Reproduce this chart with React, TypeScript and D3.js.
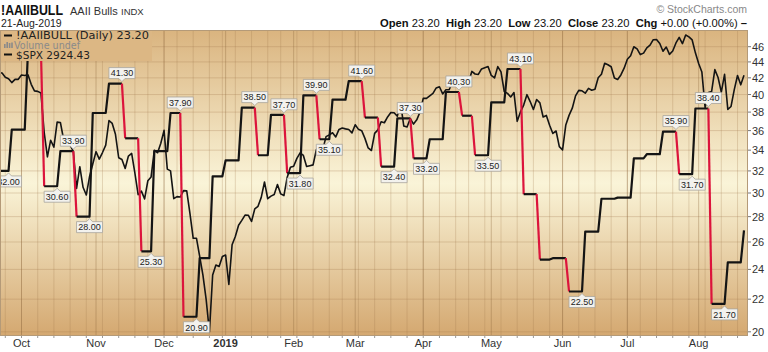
import React from "react";
import * as d3 from "d3";

// ---- data ----
const holidays = [
  "2018-11-22", "2018-12-05", "2018-12-25", "2019-01-01", "2019-01-21",
  "2019-02-18", "2019-04-19", "2019-05-27", "2019-07-04",
];

// S&P 500 daily closes, 19-Sep-2018 .. 21-Aug-2019 (trading days)
const spxSep18 = [2907.95, 2930.75, 2929.67, 2919.37, 2915.56, 2905.97, 2914.0, 2913.98];
const spxOct18 = [2924.59, 2923.43, 2925.51, 2901.61, 2885.57, 2884.43, 2880.34, 2785.68, 2728.37, 2767.13, 2750.79, 2809.92, 2809.21, 2768.78, 2767.78, 2755.88, 2740.69, 2656.1, 2705.57, 2658.69, 2641.25, 2682.63, 2711.74];
const spxNov18 = [2740.37, 2723.06, 2738.31, 2755.45, 2813.89, 2806.83, 2781.01, 2726.22, 2722.18, 2701.58, 2730.2, 2736.27, 2690.73, 2641.89, 2649.93, 2632.56, 2673.45, 2682.17, 2743.79, 2737.8, 2760.17];
const spxDec18 = [2790.37, 2700.06, 2695.95, 2633.08, 2637.72, 2636.78, 2651.07, 2650.54, 2599.95, 2545.94, 2546.16, 2506.96, 2467.42, 2416.62, 2351.1, 2467.7, 2488.83, 2485.74, 2506.85];
const spxJan19 = [2510.03, 2447.89, 2531.94, 2549.69, 2574.41, 2584.96, 2596.64, 2596.26, 2582.61, 2610.3, 2616.1, 2635.96, 2670.71, 2632.9, 2638.7, 2642.33, 2664.76, 2643.85, 2640.0, 2681.05, 2704.1];
const spxFeb19 = [2706.53, 2724.87, 2737.7, 2731.61, 2706.05, 2707.88, 2709.8, 2744.73, 2753.03, 2745.73, 2775.6, 2779.76, 2784.7, 2774.88, 2792.67, 2796.11, 2793.9, 2792.38, 2784.49];
const spxMar19 = [2803.69, 2792.81, 2789.65, 2771.45, 2748.93, 2743.07, 2783.3, 2791.52, 2810.92, 2808.48, 2822.48, 2832.94, 2832.57, 2824.23, 2854.88, 2800.71, 2798.36, 2818.46, 2805.37, 2815.44, 2834.4];
const spxApr19 = [2867.19, 2867.24, 2873.4, 2879.39, 2892.74, 2895.77, 2878.2, 2888.21, 2888.32, 2907.41, 2905.58, 2907.06, 2900.45, 2905.03, 2907.97, 2933.68, 2927.25, 2926.17, 2939.88, 2943.03, 2945.83];
const spxMay19 = [2923.73, 2917.52, 2945.64, 2932.47, 2884.05, 2879.42, 2870.72, 2881.4, 2811.87, 2834.41, 2850.96, 2876.32, 2859.53, 2840.23, 2864.36, 2856.27, 2822.24, 2826.06, 2802.39, 2783.02, 2788.86, 2752.06];
const spxJun19 = [2744.45, 2803.27, 2826.15, 2843.49, 2873.34, 2886.73, 2885.72, 2879.84, 2891.64, 2886.98, 2889.67, 2917.75, 2926.46, 2954.18, 2950.46, 2945.35, 2917.38, 2913.78, 2924.92, 2941.76];
const spxJul19 = [2964.33, 2973.01, 2995.82, 2990.41, 2975.95, 2979.63, 2993.07, 2999.91, 3013.77, 3014.3, 3004.04, 2984.42, 2995.11, 2976.61, 2985.03, 3005.47, 3019.56, 3003.67, 3025.86, 3020.97, 3013.18, 2980.38];
const spxAug19 = [2953.56, 2932.05, 2844.74, 2881.77, 2883.98, 2938.09, 2918.65, 2882.7, 2926.32, 2840.6, 2847.6, 2888.68, 2923.65, 2900.51, 2924.43];

// AAII bullish % (weekly, survey week ending Wednesday)
const aaiiWeeks = [
  "2018-09-19", "2018-09-26", "2018-10-03", "2018-10-10", "2018-10-17", "2018-10-24", "2018-10-31",
  "2018-11-07", "2018-11-14", "2018-11-21", "2018-11-28", "2018-12-05", "2018-12-12", "2018-12-19",
  "2018-12-26", "2019-01-02", "2019-01-09", "2019-01-16", "2019-01-23", "2019-01-30", "2019-02-06",
  "2019-02-13", "2019-02-20", "2019-02-27", "2019-03-06", "2019-03-13", "2019-03-20", "2019-03-27",
  "2019-04-03", "2019-04-10", "2019-04-17", "2019-04-24", "2019-05-01", "2019-05-08", "2019-05-15",
  "2019-05-22", "2019-05-29", "2019-06-05", "2019-06-12", "2019-06-19", "2019-06-26", "2019-07-03",
  "2019-07-10", "2019-07-17", "2019-07-24", "2019-07-31", "2019-08-07", "2019-08-14", "2019-08-21",
];
const aaiiBull = [
  32.0, 36.1, 45.5, 30.6, 33.9, 28.0, 37.9,
  41.3, 35.2, 25.3, 33.9, 37.9, 20.9, 24.8,
  31.5, 33.0, 38.5, 33.5, 37.7, 31.8, 39.9,
  35.1, 39.4, 41.6, 37.4, 32.4, 37.3, 33.2,
  35.1, 40.3, 37.6, 33.5, 39.1, 43.1, 29.9,
  24.7, 24.8, 22.5, 26.8, 29.5, 29.6, 33.2,
  33.6, 35.9, 31.7, 38.4, 21.7, 24.5, 26.9,
];
const labeledWeeks = [
  "2018-09-19", "2018-10-10", "2018-10-17", "2018-10-24", "2018-11-07", "2018-11-21", "2018-12-05",
  "2018-12-12", "2019-01-09", "2019-01-23", "2019-01-30", "2019-02-06", "2019-02-13", "2019-02-27",
  "2019-03-13", "2019-03-20", "2019-03-27", "2019-04-10", "2019-04-24", "2019-05-08", "2019-06-05",
  "2019-07-17", "2019-07-24", "2019-07-31", "2019-08-07",
];
const yTicks = [20, 22, 24, 26, 28, 30, 32, 34, 36, 38, 40, 42, 44, 46];
const monthNames = ["Jan", "Feb", "Mar", "Apr", "May", "Jun", "Jul", "Aug", "Sep", "Oct", "Nov", "Dec"];

// ---- layout ----
const W = 768;
const H = 352;
const plot = { left: 0, right: 748, top: 30, bottom: 336 };
const RED = "#dc143c";
const FONT = "'Liberation Sans', Arial, sans-serif";
const LEGEND_FONT = "'DejaVu Sans', Verdana, sans-serif";

const fmt = d3.timeFormat("%Y-%m-%d");
const parse = d3.timeParse("%Y-%m-%d");

const days = d3
  .timeDay.range(new Date(2018, 8, 19), new Date(2019, 7, 22))
  .filter((d) => d.getDay() % 6 !== 0 && !holidays.includes(fmt(d)));
const spx = [
  ...spxSep18, ...spxOct18, ...spxNov18, ...spxDec18, ...spxJan19, ...spxFeb19,
  ...spxMar19, ...spxApr19, ...spxMay19, ...spxJun19, ...spxJul19, ...spxAug19,
];
const weekDates = aaiiWeeks.map((s) => parse(s) as Date);
const weekOf = days.map((d) => {
  let k = 0;
  weekDates.forEach((w, i) => {
    if (w <= d) k = i;
  });
  return k;
});
const aaiiDaily = weekOf.map((k) => aaiiBull[k]);

const iOct1 = days.findIndex((d) => d.getMonth() === 9);
const x = d3.scaleLinear().domain([iOct1, days.length - 1]).range([21.5, 744]);
const yA = d3.scaleLog().domain([20, 46]).range([331.8, 46.7]);
const yS = d3.scaleLog().domain([2351.1, 3025.86]).range([332, 35]);

function Label({ cx, cy, text, peak }: { cx: number; cy: number; text: string; peak: boolean }) {
  const w = 26;
  const h = 11;
  const x0 = cx - w / 2;
  const x1 = cx + w / 2;
  let d: string;
  let ty: number;
  if (peak) {
    const b = cy - 5;
    const t = b - h;
    d = `M${x0},${t}H${x1}V${b}H${cx + 3}L${cx},${b + 3}L${cx - 3},${b}H${x0}Z`;
    ty = t + 8.8;
  } else {
    const t = cy + 5;
    const b = t + h;
    d = `M${x0},${t}H${cx - 3}L${cx},${t - 3}L${cx + 3},${t}H${x1}V${b}H${x0}Z`;
    ty = t + 8.8;
  }
  return (
    <g>
      <path d={d} fill="#f3f2ee" stroke="#a8a49c" strokeWidth={0.8} />
      <text x={cx} y={ty} textAnchor="middle" fontSize={9} fontFamily={FONT} fill="#222">
        {text}
      </text>
    </g>
  );
}

export default function App() {
  const line = d3
    .line<number>()
    .x((i) => x(i))
    .y((i) => yA(aaiiDaily[i]));

  // split the AAII line into runs of down (red) / other (black) segments
  const runs: { red: boolean; idx: number[] }[] = [];
  for (let i = 1; i < days.length; i++) {
    const red = aaiiDaily[i] < aaiiDaily[i - 1];
    const last = runs[runs.length - 1];
    if (last && last.red === red) last.idx.push(i);
    else runs.push({ red, idx: [i - 1, i] });
  }

  const spxLine = d3
    .line<number>()
    .x((_, i) => x(i))
    .y((v) => yS(v));

  const weekStarts = days
    .map((d, i) => ({ d, i }))
    .filter(({ d, i }) => i > 0 && d3.timeWeek.floor(d).getTime() !== d3.timeWeek.floor(days[i - 1]).getTime());
  const monthStarts = days
    .map((d, i) => ({ d, i }))
    .filter(({ d, i }) => i > 0 && d.getMonth() !== days[i - 1].getMonth());

  const labels = labeledWeeks.map((s) => {
    const k = aaiiWeeks.indexOf(s);
    const v = aaiiBull[k];
    const lastIdx = weekOf.lastIndexOf(k);
    const peak = k > 0 ? v > aaiiBull[k - 1] : v > aaiiBull[k + 1];
    return { cx: x(lastIdx), cy: yA(v), text: v.toFixed(2), peak };
  });

  return (
    <svg width={W} height={H} style={{ position: "absolute", left: 0, top: 0, background: "#fff" }}>
      <defs>
        <linearGradient id="bg" x1="0" y1="0" x2="0" y2="1">
          <stop offset="0" stopColor="#dab47f" />
          <stop offset="0.5" stopColor="#faf4d8" />
          <stop offset="1" stopColor="#d4a870" />
        </linearGradient>
        <clipPath id="clip">
          <rect x={plot.left} y={plot.top} width={plot.right - plot.left} height={plot.bottom - plot.top} />
        </clipPath>
      </defs>

      <rect x={plot.left} y={plot.top} width={plot.right - plot.left} height={plot.bottom - plot.top} fill="url(#bg)" />

      {/* grid */}
      <g clipPath="url(#clip)">
        {yTicks.map((t) => (
          <line key={t} x1={plot.left} x2={plot.right} y1={yA(t)} y2={yA(t)} stroke="#a0784a" strokeOpacity={0.28} />
        ))}
        {weekStarts.map(({ i }) => (
          <line key={"w" + i} x1={x(i)} x2={x(i)} y1={plot.top} y2={plot.bottom} stroke="#a0784a" strokeOpacity={0.25} />
        ))}
        {monthStarts.map(({ i }) => (
          <line key={"m" + i} x1={x(i)} x2={x(i)} y1={plot.top} y2={plot.bottom} stroke="#8a6438" strokeOpacity={0.35} />
        ))}
      </g>

      <g clipPath="url(#clip)">
        <path d={spxLine(spx) || ""} fill="none" stroke="#141414" strokeWidth={1.6} strokeLinejoin="round" />
        {runs.map((r, j) => (
          <path
            key={j}
            d={line(r.idx) || ""}
            fill="none"
            stroke={r.red ? RED : "#141414"}
            strokeWidth={2.2}
            strokeLinejoin="round"
          />
        ))}
        {labels.map((l, j) => (
          <Label key={j} {...l} />
        ))}
      </g>

      {/* legend */}
      <rect x={0} y={plot.top} width={152} height={31} fill="#dcb784" />
      <g fontFamily={LEGEND_FONT} fontSize={9.8}>
        <line x1={4} x2={12} y1={35.5} y2={35.5} stroke="#111" strokeWidth={2} />
        <text x={16} y={39} fill="#222" textLength={133} lengthAdjust="spacingAndGlyphs">
          !AAIIBULL (Daily) 23.20
        </text>
        <g fill="#8a8a8a">
          <rect x={4} y={44} width={1.6} height={4} />
          <rect x={6.4} y={42} width={1.6} height={6} />
          <rect x={8.8} y={43} width={1.6} height={5} />
          <rect x={11.2} y={42.5} width={1.6} height={5.5} />
        </g>
        <text x={14} y={49} fill="#8a8a8a" textLength={66} lengthAdjust="spacingAndGlyphs">
          Volume undef
        </text>
        <line x1={4} x2={12} y1={54.5} y2={54.5} stroke="#111" strokeWidth={2} />
        <text x={16} y={59} fill="#222" textLength={74} lengthAdjust="spacingAndGlyphs">
          $SPX 2924.43
        </text>
      </g>

      <rect
        x={plot.left + 0.5}
        y={plot.top + 0.5}
        width={plot.right - plot.left - 1}
        height={plot.bottom - plot.top - 1}
        fill="none"
        stroke="#b49a78"
        strokeWidth={1}
      />

      {/* right axis */}
      <g fontFamily={FONT} fontSize={11} fill="#333">
        {yTicks.map((t) => (
          <g key={t}>
            <line x1={plot.right} x2={plot.right + 3} y1={yA(t)} y2={yA(t)} stroke="#777" />
            <text x={752} y={yA(t)} dominantBaseline="central">
              {t}
            </text>
          </g>
        ))}
      </g>

      {/* bottom axis */}
      <g fontFamily={FONT} fontSize={11} fill="#333">
        {weekStarts.map(({ i }) => (
          <line key={"t" + i} x1={x(i)} x2={x(i)} y1={plot.bottom} y2={plot.bottom + 2} stroke="#999" />
        ))}
        {[{ d: days[iOct1], i: iOct1 }, ...monthStarts.filter(({ i }) => i > iOct1)].map(({ d, i }) => {
          const jan = d.getMonth() === 0;
          return (
            <text key={"ml" + i} x={x(i)} y={347} textAnchor="middle" fontWeight={jan ? "bold" : "normal"}>
              {jan ? String(d.getFullYear()) : monthNames[d.getMonth()]}
            </text>
          );
        })}
      </g>

      {/* header */}
      <g fontFamily={FONT} fill="#111">
        <text x={1} y={15} fontSize={14} fontWeight="bold" textLength={62} lengthAdjust="spacingAndGlyphs">
          !AAIIBULL
        </text>
        <text x={70} y={15} fontSize={11} fill="#333">AAII Bulls</text>
        <text x={121} y={15} fontSize={9.5} fill="#333">INDX</text>
        <text x={1} y={27} fontSize={10.5} fill="#222">21-Aug-2019</text>
        <text x={747} y={13} fontSize={10.5} fill="#888" textAnchor="end">© StockCharts.com</text>
        <text x={747} y={27} fontSize={11.2} textAnchor="end" style={{ whiteSpace: "pre" }}>
          <tspan fontWeight="bold">Open</tspan>
          <tspan> 23.20  </tspan>
          <tspan fontWeight="bold">High</tspan>
          <tspan> 23.20  </tspan>
          <tspan fontWeight="bold">Low</tspan>
          <tspan> 23.20  </tspan>
          <tspan fontWeight="bold">Close</tspan>
          <tspan> 23.20  </tspan>
          <tspan fontWeight="bold">Chg</tspan>
          <tspan> +0.00 (+0.00%) </tspan>
          <tspan fontWeight="bold">–</tspan>
        </text>
      </g>
    </svg>
  );
}
